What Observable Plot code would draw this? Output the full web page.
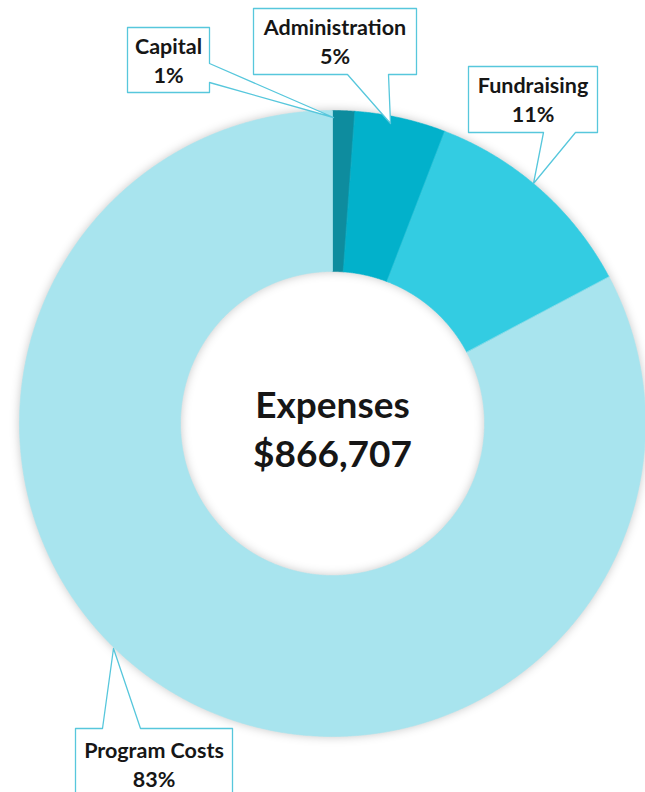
<!DOCTYPE html>
<html>
<head>
<meta charset="utf-8">
<script src="https://cdn.jsdelivr.net/npm/d3@7"></script>
<script src="https://cdn.jsdelivr.net/npm/@observablehq/plot@0.6"></script>
<style>
  html, body { margin: 0; padding: 0; background: #ffffff; }
  #chart { width: 645px; height: 792px; overflow: hidden; }
</style>
</head>
<body>
<div id="chart"></div>
<script>
// ---- data ----
const categories = ["Capital", "Administration", "Fundraising", "Program Costs"];
const shares = [1.15, 4.7, 11.4, 82.75]; // percent of total expenses
const centerTitle = "Expenses";
const totalExpenses = 866707;

// ---- styles ----
const sliceColors = ["#0e8c9e", "#02b1cb", "#33cce2", "#a8e4ee"];
const calloutStroke = "#57c7dc";
const textColor = "#161616";
const font = "Lato, 'Open Sans', sans-serif";

// ---- layout (pixels) ----
const W = 645, H = 792;
const center = {x: 332, y: 423};
const outerR = 313, innerR = 152;
const callouts = [
  {box: [127, 27, 209, 92], side: "right", tail: [[209, 63], [333, 117], [209, 82]], textY: 59},
  {box: [253, 8, 416, 74], side: "bottom", tail: [[388, 74], [390, 123], [347, 74]], textY: 40},
  {box: [468, 66, 597, 132], side: "bottom", tail: [[575, 132], [533, 183], [543, 132]], textY: 98},
  {box: [75, 728, 232, 805], side: "top", tail: [[102, 728], [113, 648], [140, 728]], textY: 763}
];

// ---- build rows ----
const rows = categories.map((c, i) => ({category: c, share: shares[i]}));
const arcs = d3.pie().sort(null).value(d => d.share)(rows);

const slicePts = [];
const step = Math.PI / 720;
for (const a of arcs) {
  const n = Math.max(2, Math.ceil((a.endAngle - a.startAngle) / step));
  const outer = [], inner = [];
  for (let k = 0; k <= n; k++) {
    const t = a.startAngle + (a.endAngle - a.startAngle) * k / n;
    outer.push({category: a.data.category, x: center.x + outerR * Math.sin(t), y: center.y - outerR * Math.cos(t)});
    inner.push({category: a.data.category, x: center.x + innerR * Math.sin(t), y: center.y - innerR * Math.cos(t)});
  }
  slicePts.push(...outer, ...inner.reverse());
}

function calloutPolygon(c) {
  const [x0, y0, x1, y1] = c.box;
  const [a, tip, b] = c.tail;
  if (c.side === "right") return [[x0, y0], [x1, y0], a, tip, b, [x1, y1], [x0, y1]];
  if (c.side === "bottom") return [[x0, y0], [x1, y0], [x1, y1], a, tip, b, [x0, y1]];
  return [[x0, y0], a, tip, b, [x1, y0], [x1, y1], [x0, y1]]; // top
}
const calloutPts = [];
callouts.forEach((c, i) => calloutPolygon(c).forEach(([x, y]) => calloutPts.push({id: i, x, y})));

const labelRows = rows.map((r, i) => ({
  text: `${r.category}\n${Math.round(r.share)}%`,
  x: (callouts[i].box[0] + callouts[i].box[2]) / 2,
  y: callouts[i].textY
}));

const centerText = `${centerTitle}\n$${d3.format(",")(totalExpenses)}`;

const svg = Plot.plot({
  width: W,
  height: H,
  margin: 0,
  style: {background: "#ffffff", fontFamily: font},
  x: {domain: [0, W], range: [0, W], axis: null},
  y: {domain: [0, H], range: [0, H], axis: null},
  color: {domain: categories, range: sliceColors},
  marks: [
    Plot.line(slicePts, {x: "x", y: "y", z: "category", fill: "category", stroke: "category", strokeWidth: 0.6, curve: "linear-closed"}),
    Plot.line(calloutPts, {x: "x", y: "y", z: "id", fill: "#ffffff", stroke: calloutStroke, strokeWidth: 1.3, curve: "linear-closed"}),
    Plot.text(labelRows, {x: "x", y: "y", text: "text", fontSize: 21.5, fontWeight: "bold", fontFamily: font, fill: textColor, lineHeight: 1.35}),
    Plot.text([centerText], {x: () => center.x, y: () => center.y + 3, text: d => d, fontSize: 37, fontWeight: "bold", fontFamily: font, fill: textColor, lineHeight: 1.35})
  ]
});

const lineGroups = svg.querySelectorAll('g[aria-label="line"]');
if (lineGroups.length) lineGroups[0].setAttribute("style", "filter: drop-shadow(0px 0px 5px rgba(0,0,0,0.22))");

document.getElementById("chart").appendChild(svg);
</script>
</body>
</html>
